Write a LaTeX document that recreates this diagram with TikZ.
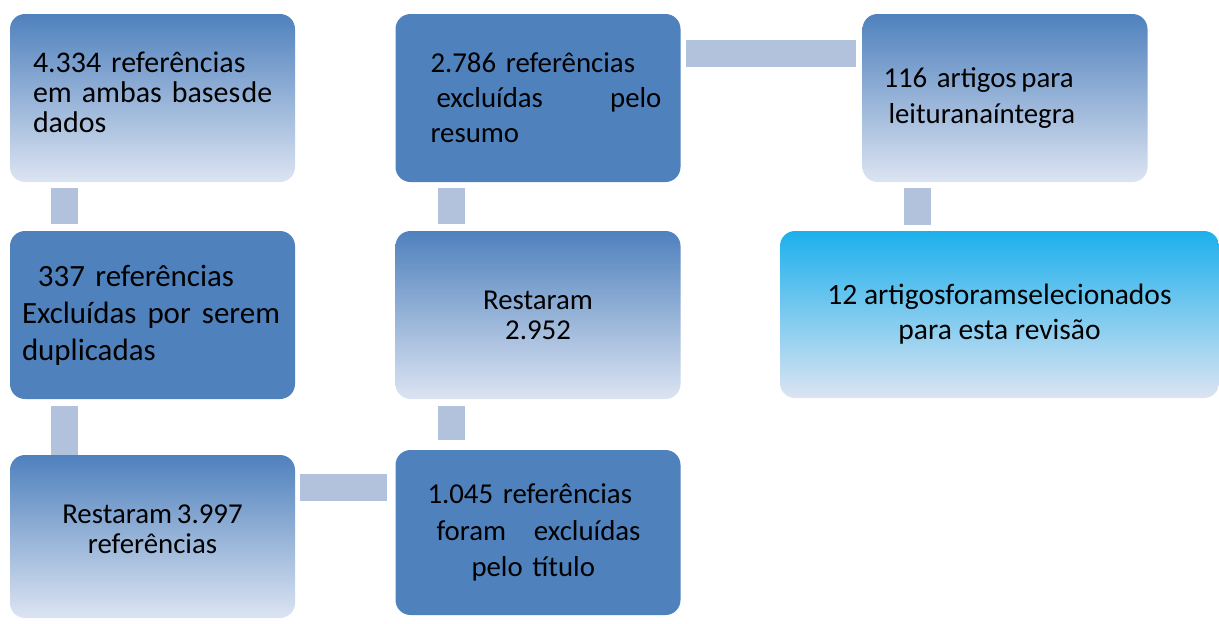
\documentclass[tikz,border=0pt]{standalone}
\usepackage{fontspec}
\setmainfont{Carlito}
\usepackage{tikz}
\usetikzlibrary{positioning,calc}

\definecolor{boxblue}{HTML}{4F81BD}
\definecolor{boxlight}{HTML}{DCE4F2}
\definecolor{boxmid}{HTML}{A9BDDE}
\definecolor{linkblue}{HTML}{B2C2DC}
\definecolor{boxcyan}{HTML}{1CB0EC}
\definecolor{cyanmid}{HTML}{8CC8EE}

\begin{document}
\begin{tikzpicture}[
    box/.style={rounded corners=0.375cm, minimum width=7.125cm, minimum height=4.2cm,
                font=\fontsize{20.5}{25}\selectfont, text=black},
    solidbox/.style={box, fill=boxblue},
    fadebox/.style={box, top color=boxblue, middle color=boxmid, bottom color=boxlight},
    tight/.style={font=\fontsize{20.5}{21.5}\selectfont},
    link/.style={draw=linkblue, line width=0.675cm}
]
\useasboundingbox (0,0) rectangle (30.475,-15.575);

% left column
\node[fadebox, font=\fontsize{21.3}{21.5}\selectfont, align=left, inner xsep=0.3cm, text width=6.525cm] (total) at (3.8125,-2.45)
    {\hspace*{0.275cm}4.334 referências\\\hspace*{0.275cm}em ambas bases\kern1pt de\\\hspace*{0.275cm}dados\rule[-0.3cm]{0pt}{0pt}};
\node[solidbox, font=\fontsize{22}{26.3}\selectfont, align=left, inner xsep=0.3cm, text width=6.525cm] (dup) at (3.8125,-7.875)
    {\hspace*{0.4cm}337 referências\\\makebox[6.45cm][s]{Excluídas\hfill por\hfill serem}\\duplicadas};
\node[fadebox, tight, align=center, minimum height=4.075cm] (rest1) at (3.8125,-13.4125)
    {Restaram\,3.997\\referências\rule[-0.35cm]{0pt}{0pt}};

% middle column
\node[solidbox, font=\fontsize{20.5}{26}\selectfont, align=left, inner xsep=0.8cm, text width=5.525cm, minimum height=4.125cm] (title) at (13.45,-13.3125)
    {1.045 referências\\\hspace*{0.225cm}\makebox[5.1cm][s]{foram\hfill excluídas}\\\hspace*{1.1cm}pelo título};
\node[fadebox, tight, align=center] (rest2) at (13.45,-7.875)
    {Restaram\\2.952};
\node[solidbox, align=left, inner xsep=0.45cm, text width=6.225cm] (abs) at (13.45,-2.45)
    {\hspace*{0.425cm}2.786 referências\\\hspace*{0.575cm}\makebox[5.625cm][s]{excluídas\hfill pelo}\\\hspace*{0.425cm}resumo};

% right column
\node[fadebox, align=left, inner xsep=0.525cm, text width=6.075cm] (full) at (25.125,-2.45)
    {116 artigos\,para\\\hspace*{0.125cm}leituranaíntegra};
\node[box, font=\fontsize{21}{25}\selectfont, top color=boxcyan, middle color=cyanmid, bottom color=boxlight, align=center,
      minimum width=10.975cm, minimum height=4.175cm] (final) at (24.9875,-7.8625)
    {12 artigosforamselecionados\\para esta revisão};

% connectors
\draw[link, shorten <=0.15cm, shorten >=0.175cm] ([xshift=1.3625cm]total.south west) -- ([xshift=1.3625cm]dup.north west);
\draw[link, shorten <=0.175cm] ([xshift=1.3625cm]dup.south west) -- ([xshift=1.3625cm]rest1.north west);
\draw[link, shorten <=0.125cm, shorten >=0.2cm] ([yshift=-0.8125cm]rest1.north east) -- ([yshift=-0.8125cm]rest1.north east -| title.west);
\draw[link, shorten <=0.25cm, shorten >=0.175cm] ([xshift=1.4125cm]title.north west) -- ([xshift=1.4125cm]rest2.south west);
\draw[link, shorten <=0.175cm, shorten >=0.15cm] ([xshift=1.4125cm]rest2.north west) -- ([xshift=1.4125cm]abs.south west);
\draw[link, shorten <=0.125cm, shorten >=0.15cm] ([yshift=-0.9875cm]abs.north east) -- ([yshift=-0.9875cm]abs.north east -| full.west);
\draw[link, shorten <=0.15cm, shorten >=0.15cm] ([xshift=1.3875cm]full.south west) -- ([xshift=1.3875cm]full.south west |- final.north);
\end{tikzpicture}
\end{document}
